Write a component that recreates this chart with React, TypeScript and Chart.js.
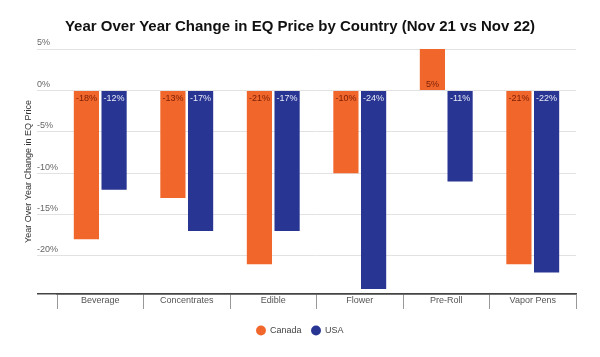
import React, { useEffect, useRef } from "react";
import { Chart, registerables } from "chart.js";

Chart.register(...registerables);

const categories = ["Beverage", "Concentrates", "Edible", "Flower", "Pre-Roll", "Vapor Pens"];
const canadaValues = [-18, -13, -21, -10, 5, -21];
const usaValues = [-12, -17, -17, -24, -11, -22];
const seriesNames = ["Canada", "USA"];
const yTickStep = 5;
const yMin = -24.6;
const yMax = 5;

const ORANGE = "#F1662B";
const BLUE = "#283593";
const FONT = "'Liberation Sans', Arial, sans-serif";

const valueLabelPlugin = {
  id: "valueLabels",
  afterDatasetsDraw(chart: any) {
    const ctx = chart.ctx;
    ctx.save();
    ctx.font = `9px ${FONT}`;
    ctx.textAlign = "center";
    chart.data.datasets.forEach((ds: any, di: number) => {
      const meta = chart.getDatasetMeta(di);
      meta.data.forEach((bar: any, i: number) => {
        const v = ds.data[i];
        ctx.fillStyle = di === 0 ? "#7A1E05" : "#E8EAF6";
        const text = `${v}%`;
        if (v < 0) {
          ctx.textBaseline = "top";
          ctx.fillText(text, bar.x, bar.base + 3);
        } else {
          ctx.textBaseline = "bottom";
          ctx.fillText(text, bar.x, bar.base - 0.5);
        }
      });
    });
    ctx.restore();
  },
};

export default function App() {
  const ref = useRef<HTMLCanvasElement>(null);
  useEffect(() => {
    document.body.style.margin = "0";
    const chart = new Chart(ref.current as HTMLCanvasElement, {
      type: "bar",
      data: {
        labels: categories,
        datasets: [
          { label: seriesNames[0], data: canadaValues, backgroundColor: ORANGE, categoryPercentage: 0.64, barPercentage: 0.91 },
          { label: seriesNames[1], data: usaValues, backgroundColor: BLUE, categoryPercentage: 0.64, barPercentage: 0.91 },
        ],
      },
      options: {
        responsive: false,
        animation: false,
        devicePixelRatio: 1,
        layout: { padding: { left: 24, right: 24, top: 0, bottom: 12 } },
        plugins: {
          title: {
            display: true,
            text: "Year Over Year Change in EQ Price by Country (Nov 21 vs Nov 22)",
            font: { family: FONT, size: 15, weight: "bold" },
            color: "#111",
            padding: { top: 18, bottom: 13 },
          },
          legend: {
            position: "bottom",
            labels: {
              usePointStyle: true,
              pointStyle: "circle",
              boxWidth: 9,
              boxHeight: 7,
              padding: 10,
              color: "#444",
              font: { family: FONT, size: 9 },
            },
          },
          tooltip: { enabled: false },
        },
        scales: {
          x: {
            grid: { display: true, drawOnChartArea: false, drawTicks: true, tickLength: 15, color: "#999", offset: true },
            border: { display: true, color: "#444", width: 1.5 },
            ticks: { padding: -14, color: "#555", font: { family: FONT, size: 9 } },
            afterFit: (scale: any) => { scale.height = 22; },
          },
          y: {
            min: yMin,
            max: yMax,
            ticks: {
              stepSize: yTickStep,
              mirror: true,
              padding: -20,
              labelOffset: -6,
              color: "#666",
              font: { family: FONT, size: 9 },
              callback: (v: any) => (Math.abs(v % yTickStep) < 1e-9 ? `${v}%` : ""),
            },
            grid: {
              drawTicks: true,
              tickLength: 20,
              color: (c: any) => (c.tick && Math.abs(c.tick.value - yMin) < 1e-6 ? "#444" : "#E2E2E2"),
              lineWidth: (c: any) => (c.tick && Math.abs(c.tick.value - yMin) < 1e-6 ? 1.5 : 1),
            },
            border: { display: false },
            title: {
              display: true,
              text: "Year Over Year Change in EQ Price",
              font: { family: FONT, size: 9 },
              color: "#333",
              padding: { top: -1, bottom: 0 },
            },
            afterFit: (scale: any) => { scale.width = 33; },
          },
        },
      },
      plugins: [valueLabelPlugin],
    } as any);
    return () => chart.destroy();
  }, []);
  return (
    <div style={{ width: 600, height: 357, background: "#fff" }}>
      <canvas ref={ref} width={600} height={357} />
    </div>
  );
}
